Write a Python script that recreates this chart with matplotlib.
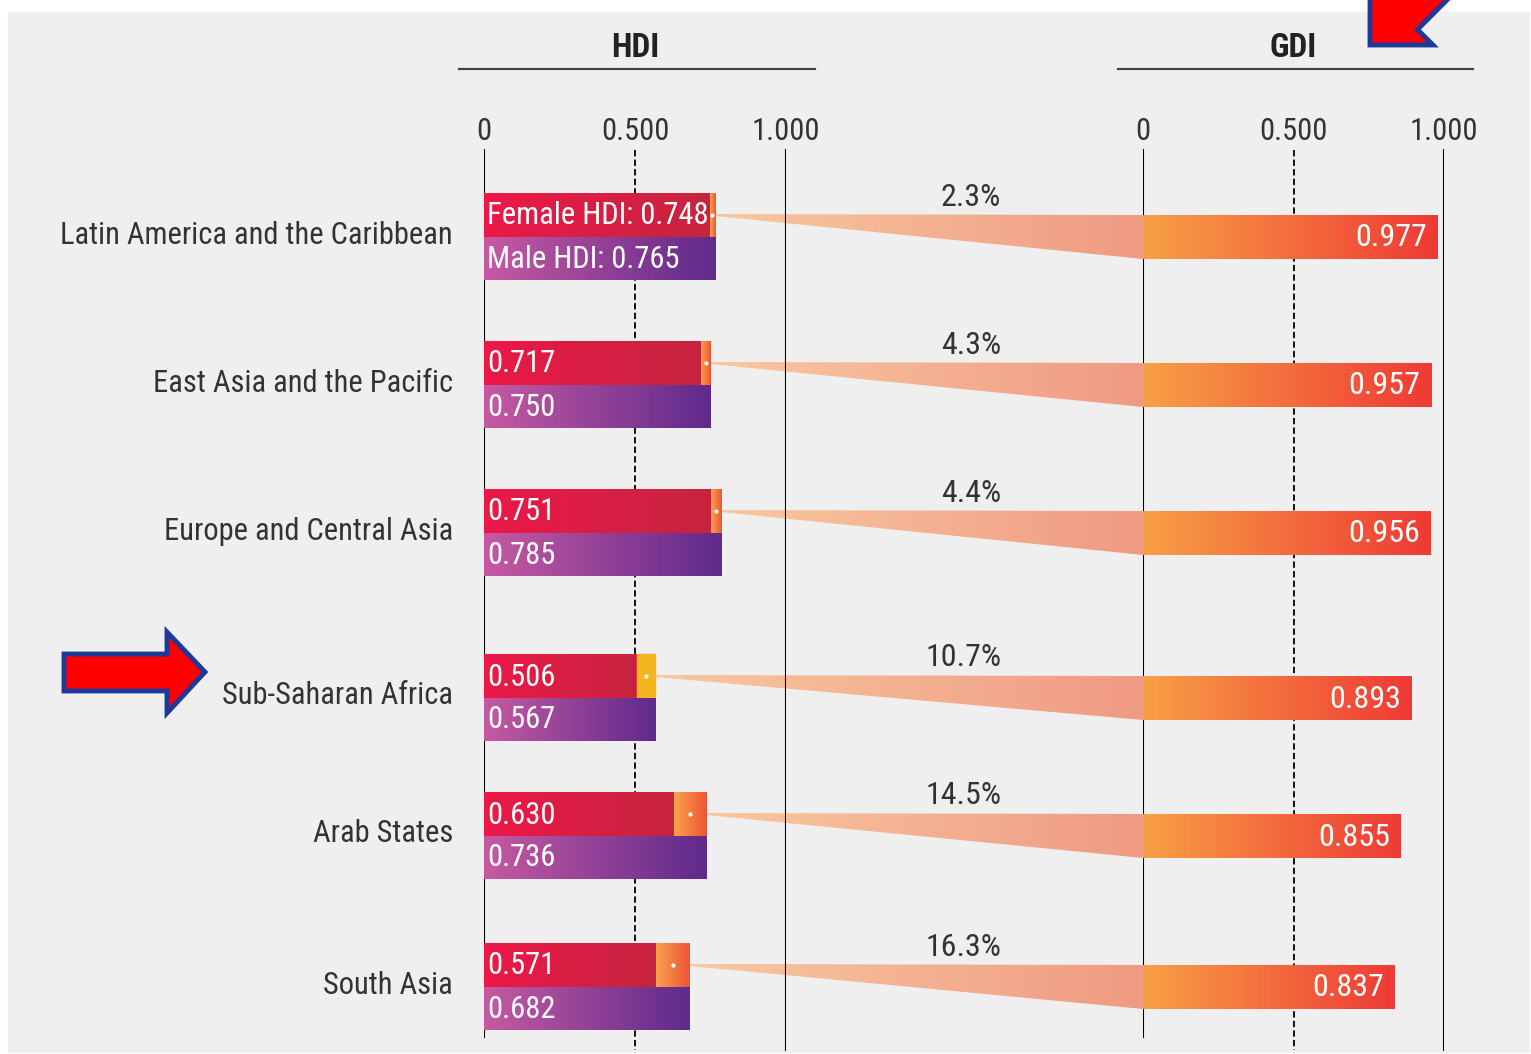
import os
import numpy as np
import matplotlib
matplotlib.use("Agg")
import matplotlib.pyplot as plt
from matplotlib import font_manager as fm
from matplotlib.patches import Polygon, Rectangle
from matplotlib.colors import to_rgb

# --- data ---
regions = ["Latin America and the Caribbean", "East Asia and the Pacific",
           "Europe and Central Asia", "Sub-Saharan Africa", "Arab States", "South Asia"]
female_hdi = [0.748, 0.717, 0.751, 0.506, 0.630, 0.571]
male_hdi = [0.765, 0.750, 0.785, 0.567, 0.736, 0.682]
gdi = [0.977, 0.957, 0.956, 0.893, 0.855, 0.837]
gap_pct = [2.3, 4.3, 4.4, 10.7, 14.5, 16.3]
tick_vals = [0, 0.5, 1.0]
tick_labels = ["0", "0.500", "1.000"]

# --- layout (pixels) ---
W, H = 1531, 1054
row_top = [193, 341, 489, 654, 792, 943]
bar_h = 44
TXT = '#333333'


# narrow font lookup (reference uses a condensed face)
def find_font(bold=False):
    keys = ['robotocondensed', 'liberationsansnarrow', 'dejavusanscondensed',
            'notosanscondensed', 'opensanscondensed']
    skip = ['italic', 'light', 'medium', 'thin', 'black', 'semi', 'extra', 'oblique']
    for key in keys:
        for f in fm.fontManager.ttflist:
            base = os.path.basename(f.fname).lower().replace('-', '').replace('_', '')
            if key not in base or any(s in base for s in skip):
                continue
            if ('bold' in base) == bold:
                return f.fname
    return None


REG = find_font(False)
BLD = find_font(True) or REG


def fp(size, bold=False):
    path = BLD if bold else REG
    if path:
        return fm.FontProperties(fname=path, size=size)
    return fm.FontProperties(family='DejaVu Sans', size=size * 0.8,
                             weight='bold' if bold else 'normal')


fig = plt.figure(figsize=(W / 100, H / 100), dpi=100)
fig.patch.set_facecolor('white')

ov = fig.add_axes([0, 0, 1, 1], zorder=0)
ax_h = fig.add_axes([484 / W, 0, 302 / W, 1], zorder=1)
ax_g = fig.add_axes([1143 / W, 0, 301 / W, 1], zorder=1)
ov.set_xlim(0, W)
for ax in (ax_h, ax_g):
    ax.set_xlim(0, 1)
    ax.patch.set_visible(False)
for ax in (ov, ax_h, ax_g):
    ax.set_ylim(H, 0)
    ax.set_autoscale_on(False)
    ax.axis('off')

ov.add_patch(Rectangle((8, 12), W - 10, H - 14, color='#efefef', zorder=0))


def grad(ax, x0, x1, y0, y1, c0, c1, clip=None, z=2):
    c0, c1 = np.array(to_rgb(c0)), np.array(to_rgb(c1))
    t = np.linspace(0, 1, 256)[None, :, None]
    img = c0 + (c1 - c0) * t
    im = ax.imshow(img, extent=(x0, x1, y1, y0), aspect='auto',
                   interpolation='bilinear', zorder=z)
    if clip is not None:
        im.set_clip_path(clip)
    return im


def to_ov(ax, x):
    d = ax.transData.transform((x, 0))
    return ov.transData.inverted().transform(d)[0]


# headers and axis lines
for ax, name in ((ax_h, "HDI"), (ax_g, "GDI")):
    ax.plot([-0.083, 1.096], [69, 69], color='#444444', lw=1.6, clip_on=False)
    ax.text(0.5, 48, name, ha='center', va='center', fontproperties=fp(24, True),
            color='#222222')
    for v, lab in zip(tick_vals, tick_labels):
        ax.text(v, 132, lab, ha='center', va='center', fontproperties=fp(22), color=TXT)
    ax.plot([0, 0], [150, 1037], color='black', lw=1.5, zorder=2)
    ax.plot([0.5, 0.5], [150, 1050], color='black', lw=1.3,
            ls=(0, (3.5, 1.8)), zorder=2)
    ax.plot([1, 1], [150, 1050], color='black', lw=1.5, zorder=2)

for i, reg in enumerate(regions):
    ft = row_top[i]
    fc = ft + bar_h / 2
    mt = ft + bar_h
    mc = mt + bar_h / 2
    f, m, g = female_hdi[i], male_hdi[i], gdi[i]

    # female / male bars
    grad(ax_h, 0, f, ft, mt, '#ec1848', '#c6243f', z=3)
    if i == 3:
        ax_h.add_patch(Rectangle((f, ft), m - f, bar_h, color='#f4b41b', zorder=3))
    else:
        grad(ax_h, f, m, ft, mt, '#f9a24c', '#ee5436', z=3)
    ax_h.plot([(f + m) / 2], [fc], 'o', ms=2, color='white', zorder=4)
    grad(ax_h, 0, m, mt, mt + bar_h - 1, '#c65aa2', '#5f2a8c', z=3)

    if i == 0:
        flab, mlab = f"Female HDI: {f:.3f}", f"Male HDI: {m:.3f}"
    else:
        flab, mlab = f"{f:.3f}", f"{m:.3f}"
    ax_h.text(0.01, fc + 1, flab, ha='left', va='center', fontproperties=fp(22),
              color='white', zorder=6)
    ax_h.text(0.01, mc, mlab, ha='left', va='center', fontproperties=fp(22),
              color='white', zorder=6)

    # region label
    ov.text(453, mt - 2, reg, ha='right', va='center', fontproperties=fp(22), color=TXT)

    # wedge from HDI gap to GDI bar
    x0 = to_ov(ax_h, m)
    x1 = to_ov(ax_g, 0)
    poly = Polygon([(x0, fc - 1), (x1, fc), (x1, mc), (x0, fc + 1)],
                   closed=True, facecolor='none', edgecolor='none')
    ov.add_patch(poly)
    grad(ov, x0, x1, fc - 1, mc, '#f8c8a0', '#f09a84', clip=poly, z=1)
    ov.text(1001, ft + 4, f"{gap_pct[i]}%", ha='right', va='center',
            fontproperties=fp(23), color=TXT)

    # GDI bar
    grad(ax_g, 0, g, fc, mc, '#f8a046', '#ee3a35', z=3)
    ax_g.text(g - 0.035, (fc + mc) / 2 + 1, f"{g:.3f}", ha='right', va='center',
              fontproperties=fp(23), color='white', zorder=6)

# highlight arrows
arrow_kw = dict(closed=True, facecolor='#ff0000', edgecolor='#1c3a9c',
                lw=3.5, joinstyle='miter', zorder=10)
ov.add_patch(Polygon([(64, 654), (167, 654), (167, 632), (205, 672),
                      (167, 713), (167, 691), (64, 691)], **arrow_kw))

tip = np.array([1370.0, 45.0])
u = np.array([1.0, -1.0]) / np.sqrt(2)
v = np.array([1.0, 1.0]) / np.sqrt(2)
local = [(0, 0), (44.5, 44.5), (44.5, 22.6), (220, 22.6),
         (220, -22.6), (44.5, -22.6), (44.5, -44.5)]
ov.add_patch(Polygon([tip + s * u + t * v for s, t in local], **arrow_kw))

fig.savefig("out.png", dpi=100, facecolor='white')
